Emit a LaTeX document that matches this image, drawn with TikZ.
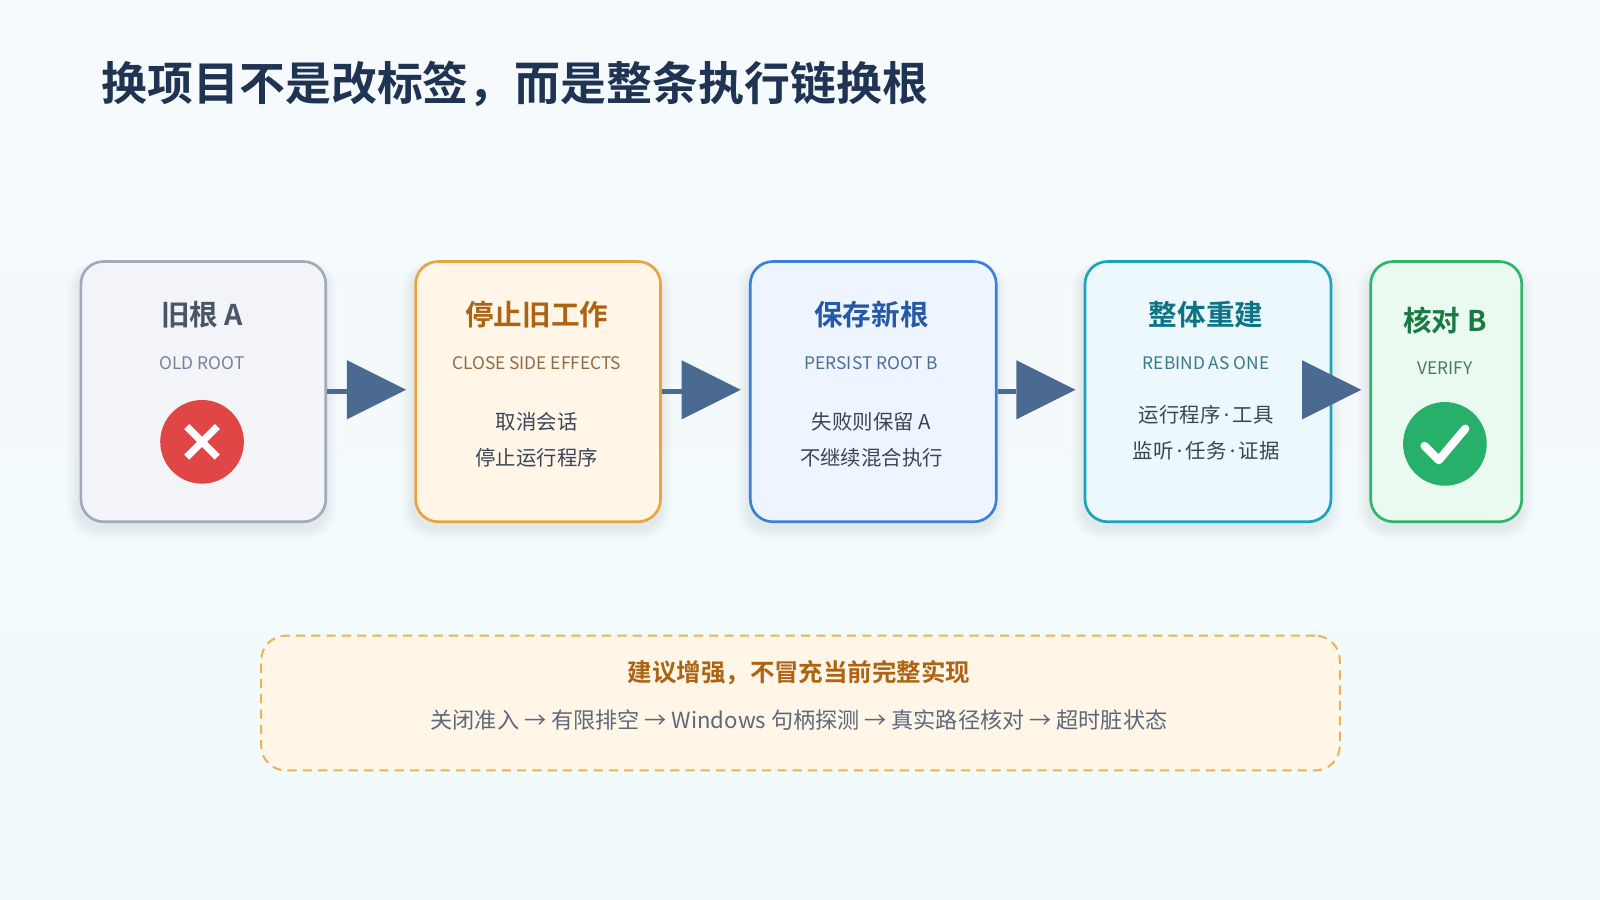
\documentclass[tikz,border=0pt]{standalone}
\usepackage{fontspec}
\setmainfont{Noto Sans CJK SC}
\newfontfamily\cjkb{Noto Sans CJK SC Bold}
\newfontfamily\lat{Noto Sans}
\newcommand{\md}{{\lat\,·\,}}
\definecolor{navy}{HTML}{1F3352}
\definecolor{arr}{HTML}{4B6A91}
\definecolor{txt}{HTML}{3A4556}
\definecolor{bg1}{HTML}{F6FAFD}
\definecolor{bg2}{HTML}{F1FBFB}
\definecolor{c1}{HTML}{A0AABB}\definecolor{f1}{HTML}{F3F4F7}\definecolor{h1}{HTML}{4A5568}\definecolor{u1}{HTML}{75829A}
\definecolor{c2}{HTML}{E9A33F}\definecolor{f2}{HTML}{FFF6E8}\definecolor{h2}{HTML}{AC6414}\definecolor{u2}{HTML}{8E6A45}
\definecolor{c3}{HTML}{3A7FD8}\definecolor{f3}{HTML}{EEF5FE}\definecolor{h3}{HTML}{2458A8}\definecolor{u3}{HTML}{4C6C9A}
\definecolor{c4}{HTML}{1AA3BE}\definecolor{f4}{HTML}{ECF8FC}\definecolor{h4}{HTML}{0D7487}\definecolor{u4}{HTML}{3C7886}
\definecolor{c5}{HTML}{2EB56A}\definecolor{f5}{HTML}{EBFAF1}\definecolor{h5}{HTML}{1B7A43}\definecolor{u5}{HTML}{4A7A5E}
\definecolor{red1}{HTML}{E04646}\definecolor{grn}{HTML}{26B06A}
\tikzset{
 box/.style 2 args={draw=#1, fill=#2, line width=2.6pt, rounded corners=22pt, minimum height=255pt, anchor=north west},
 ttl/.style={font=\cjkb\fontsize{28}{30}\selectfont, text=#1},
 sub/.style={font=\fontsize{17}{19}\selectfont, text=#1},
 bdy/.style={font=\fontsize{20}{36}\selectfont, text=txt, align=center},
 conn/.style={draw=arr, line width=5pt},
}
\begin{document}
\begin{tikzpicture}[x=1pt,y=-1pt]
\useasboundingbox (0,0) rectangle (1568,882);
\shade[top color=bg1, bottom color=bg2] (0,0) rectangle (1568,882);
\node[anchor=west, font=\cjkb\fontsize{45}{47}\selectfont, text=navy] (title) at (96,82) {换项目不是改标签，而是整条执行链换根};

\foreach \x/\w in {78/240,406/240,734/241,1062/241,1342/148}{
 \foreach \i in {1,...,6}{
  \fill[black, opacity=0.012, rounded corners=22pt+\i pt] (\x-2*\i,262-\i) rectangle (\x+\w+2*\i,518+1.6*\i);
 }
}
\node[box={c1}{f1}, minimum width=240pt] (b1) at (78,255) {};
\node[box={c2}{f2}, minimum width=240pt] (b2) at (406,255) {};
\node[box={c3}{f3}, minimum width=241pt] (b3) at (734,255) {};
\node[box={c4}{f4}, minimum width=241pt] (b4) at (1062,255) {};
\node[box={c5}{f5}, minimum width=148pt] (b5) at (1342,255) {};

\node[ttl=h1] (t1) at (198,308) {旧根 A};
\node[sub=u1] (s1) at (198,356) {OLD ROOT};
\fill[red1] (198,433) circle (41);
\draw[white, line width=7pt] (183,418) -- (213,448) (213,418) -- (183,448);

\node[ttl=h2] (t2) at (526,308) {停止旧工作};
\node[sub=u2] (s2) at (526,356) {CLOSE SIDE EFFECTS};
\node[bdy] (d2) at (526,431) {取消会话\\停止运行程序};

\node[ttl=h3] (t3) at (854,308) {保存新根};
\node[sub=u3] (s3) at (854,356) {PERSIST ROOT B};
\node[bdy] (d3) at (854,431) {失败则保留 A\\不继续混合执行};

\node[ttl=h4] (t4) at (1182,308) {整体重建};
\node[sub=u4] (s4) at (1182,356) {REBIND AS ONE};
\node[bdy] (d4) at (1182,424) {运行程序\md 工具\\监听\md 任务\md 证据};

\node[ttl=h5] (t5) at (1416,314) {核对 B};
\node[sub=u5] (s5) at (1416,361) {VERIFY};
\fill[grn] (1416,435) circle (41);
\draw[white, line width=8pt, line cap=round, line join=round] (1396,437) -- (1410,451) -- (1436,420);

\foreach \a/\x in {b1/340, b2/668, b3/996}{
 \draw[conn] (\a.east) -- (\a.east -| \x,0);
 \fill[arr] (\x,353) -- (\x+58,382) -- (\x,411) -- cycle;
}
\fill[arr] (1276,353) -- (1334,382) -- (1276,411) -- cycle;

\node[draw=c2!85, fill=f2, dash pattern=on 9pt off 6pt, line width=2pt, rounded corners=24pt, minimum width=1057pt, minimum height=132pt, anchor=north west] (note) at (255,622) {};
\node[font=\cjkb\fontsize{24}{26}\selectfont, text=h2] (nt) at (783,659) {建议增强，不冒充当前完整实现};
\node[font=\fontsize{21.7}{23}\selectfont, text=u1!80!black] (nd) at (783,706) {关闭准入 → 有限排空 → Windows 句柄探测 → 真实路径核对 → 超时脏状态};
\end{tikzpicture}
\end{document}
